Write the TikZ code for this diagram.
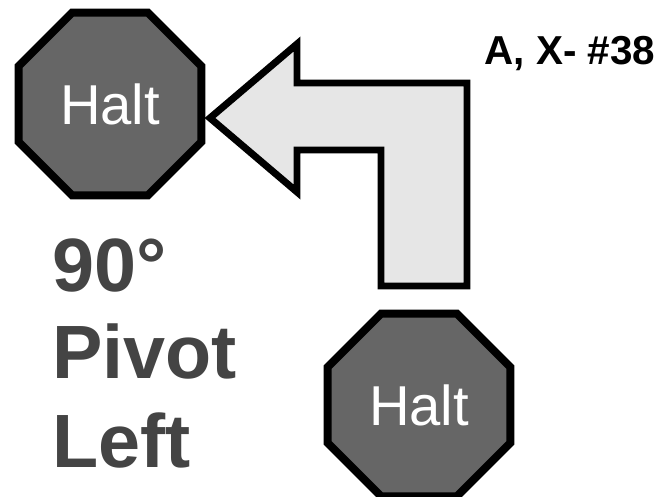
\documentclass[tikz,border=0pt]{standalone}
\usepackage{fontspec}
\setmainfont{Liberation Sans}
\usetikzlibrary{shapes.geometric,positioning}
\definecolor{signgray}{HTML}{666666}
\definecolor{arrowgray}{HTML}{E6E6E6}
\definecolor{textgray}{HTML}{444444}
\def \signSize {3.96cm}
\tikzset{
	haltsign/.style= {draw=black, regular polygon, regular polygon sides=8, minimum size=\signSize, inner sep=0pt, line width=0.16cm, fill=signgray, text=white, font=\fontsize{32}{34}\selectfont},
	turnarrow/.style= {draw=black, line width=0.14cm, fill=arrowgray, line join=miter},
	bigtext/.style= {anchor=base west, inner sep=0pt, text=textgray, font=\fontsize{43}{47}\selectfont\bfseries},
	codetext/.style= {inner sep=0pt, font=\fontsize{23}{25}\selectfont\bfseries}
}
\begin{document}
\begin{tikzpicture}[x=0.02cm, y=-0.02cm]
\useasboundingbox (0,0) rectangle (664,497);

%%%%%%%%%%%%%%%%%%%%% Nodes %%%%%%%%%%%%%%%%%%%%%
	\node [haltsign] (haltend) at (110,104) {Halt};
	\node [haltsign] (haltstart) at (419,405) {Halt};
	\node [codetext] (code) at (570,54) {A, X- \#38};
	\node [bigtext] (deg) at (52,292) {90°};
	\node [bigtext] (pivot) at (52,378) {Pivot};
	\node [bigtext] (left) at (52,467) {Left};

%%%%%%%%%%%%%%%%%%%%% Arrow %%%%%%%%%%%%%%%%%%%%%
	\draw [turnarrow] (210,118) -- (297,44) -- (297,83) -- (467,83) -- (467,286)
		-- (381,286) -- (381,150) -- (297,150) -- (297,192) -- cycle;

\end{tikzpicture}
\end{document}
